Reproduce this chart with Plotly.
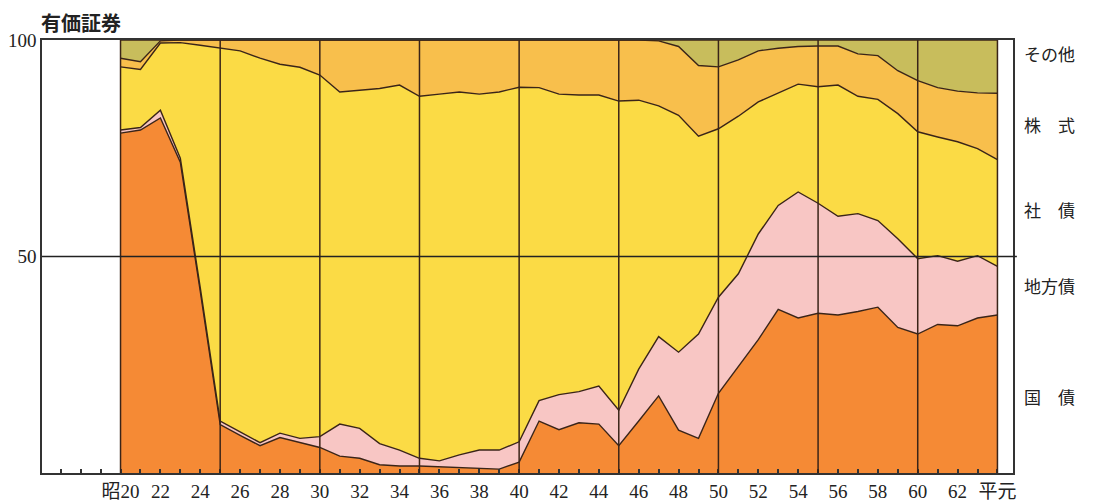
import plotly.graph_objects as go

# 昭和20年 (1945) ～ 平成元年 (昭和64年, 1989) — 構成比 (%)
years = list(range(20, 65))

kokusai = [78.5, 79.2, 82.0, 71.8, 42.0, 11.2, 8.7, 6.3, 8.2, 7.0,
           5.9, 3.9, 3.4, 1.9, 1.6, 1.6, 1.4, 1.3, 1.1, 0.9,
           2.5, 12.0, 10.0, 11.6, 11.3, 6.3, 12.0, 17.8, 9.9, 8.0,
           18.4, 24.7, 30.8, 37.8, 35.8, 36.9, 36.5, 37.3, 38.3, 33.6,
           32.1, 34.3, 34.0, 35.8, 36.5]

chihousai = [0.7, 0.6, 1.8, 0.9, 0.8, 0.8, 0.8, 0.7, 1.0, 1.0,
             2.5, 7.4, 6.9, 4.9, 3.7, 1.8, 1.4, 2.9, 4.2, 4.4,
             4.7, 4.7, 8.1, 7.2, 8.8, 8.2, 12.0, 13.7, 18.0, 24.1,
             22.2, 21.3, 24.4, 24.0, 29.1, 25.4, 22.8, 22.6, 20.0, 20.5,
             17.4, 15.9, 14.9, 14.4, 11.2]

shasai = [14.6, 13.4, 15.5, 26.7, 56.0, 86.1, 88.0, 88.8, 85.2, 85.7,
          83.5, 76.7, 78.1, 82.0, 84.3, 83.6, 84.7, 83.8, 82.2, 82.7,
          81.9, 72.3, 69.4, 68.5, 67.2, 71.4, 62.1, 53.3, 54.7, 45.7,
          38.9, 36.4, 30.5, 26.0, 24.9, 26.9, 30.3, 27.1, 28.0, 28.9,
          29.3, 27.4, 27.6, 24.7, 24.7]

kabushiki = [2.0, 1.8, 0.5, 0.6, 1.2, 1.9, 2.5, 4.2, 5.6, 6.3,
             8.1, 12.0, 11.6, 11.2, 10.4, 13.0, 12.5, 12.0, 12.5, 12.0,
             10.9, 11.0, 12.5, 12.7, 12.7, 14.1, 13.9, 15.0, 15.9, 16.3,
             14.3, 13.0, 11.8, 10.3, 8.7, 9.4, 9.0, 9.8, 10.1, 9.9,
             11.8, 11.4, 11.7, 12.9, 15.3]

sonota = [4.2, 5.0, 0.2, 0.0, 0.0, 0.0, 0.0, 0.0, 0.0, 0.0,
          0.0, 0.0, 0.0, 0.0, 0.0, 0.0, 0.0, 0.0, 0.0, 0.0,
          0.0, 0.0, 0.0, 0.0, 0.0, 0.0, 0.0, 0.2, 1.5, 5.9,
          6.2, 4.6, 2.5, 1.9, 1.5, 1.4, 1.4, 3.2, 3.6, 7.1,
          9.4, 11.0, 11.8, 12.2, 12.3]

series_names = ["国債", "地方債", "社債", "株式", "その他"]
series_labels = ["国\u3000債", "地方債", "社\u3000債", "株\u3000式", "その他"]
label_y = [17.6, 43.4, 60.8, 80.6, 96.9]

tick_vals = list(range(20, 65, 2))
tick_text = ["昭20"] + [str(v) for v in range(22, 63, 2)] + ["平元"]
grid_years = [20, 25, 30, 35, 40, 45, 50, 55, 60, 64]

colors = ["#F58A35", "#F8C6C4", "#FBDB45", "#F8BF4C", "#C8BD5C"]
LINE = "#3A2418"
FRAME = "#333333"
SERIF = "Liberation Serif, Noto Sans CJK JP, serif"
CJK = "Noto Sans CJK JP, sans-serif"

fig = go.Figure()
for name, vals, col in zip(series_names, [kokusai, chihousai, shasai, kabushiki, sonota], colors):
    fig.add_trace(go.Scatter(
        x=years, y=vals, name=name, mode="lines", stackgroup="one",
        line=dict(color=LINE, width=1.4), fillcolor=col,
    ))

shapes = []
for gy in grid_years:
    shapes.append(dict(type="line", xref="x", yref="y", x0=gy, x1=gy, y0=0, y1=100,
                       line=dict(color=LINE, width=1.5), layer="above"))
shapes.append(dict(type="line", xref="paper", yref="y", x0=0, x1=1.004, y0=50, y1=50,
                   line=dict(color="#222222", width=1.3), layer="above"))

annotations = [dict(text="<b>有価証券</b>", xref="paper", yref="paper", x=-0.002, y=1.041,
                    xanchor="left", yanchor="middle", showarrow=False, borderpad=0,
                    font=dict(family=CJK, size=20, color="#222222"))]
for lab, ly in zip(series_labels, label_y):
    annotations.append(dict(text=lab, xref="paper", yref="y", x=1.0093, y=ly,
                            xanchor="left", yanchor="middle", showarrow=False,
                            font=dict(family=CJK, size=17, color="#222222")))

# page body has an 8px default margin; figure sized/margined to compensate
fig.update_layout(
    width=1103, height=496,
    margin=dict(l=34, r=98, t=32, b=31, autoexpand=False),
    paper_bgcolor="white", plot_bgcolor="white",
    showlegend=False,
    shapes=shapes, annotations=annotations,
    xaxis=dict(range=[16.06, 64.78], tickvals=tick_vals, ticktext=tick_text,
               automargin=False,
               ticks="inside", ticklen=4, tickwidth=1.5, tickcolor=FRAME,
               minor=dict(dtick=1, tick0=16, ticks="inside", ticklen=4, tickwidth=1.5, tickcolor=FRAME),
               showline=True, mirror=True, linecolor=FRAME, linewidth=1.5,
               showgrid=False, zeroline=False,
               tickfont=dict(family=SERIF, size=19, color="#222222")),
    yaxis=dict(range=[0, 100], tickvals=[50, 100], ticktext=["50", "100"], ticks="",
               automargin=False,
               showline=True, mirror=True, linecolor=FRAME, linewidth=1.5,
               showgrid=False, zeroline=False,
               tickfont=dict(family=SERIF, size=19, color="#222222")),
)

fig.write_html("out.html")
